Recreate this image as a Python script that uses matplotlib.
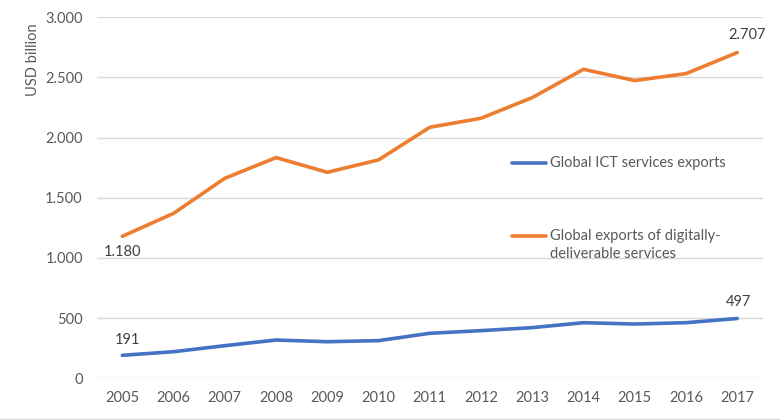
import matplotlib
matplotlib.use("Agg")
import matplotlib.pyplot as plt
from matplotlib.ticker import FuncFormatter
from matplotlib.lines import Line2D

years = ["2005", "2006", "2007", "2008", "2009", "2010", "2011", "2012",
         "2013", "2014", "2015", "2016", "2017"]
ict_exports = [191, 221, 271, 318, 304, 313, 374, 396, 421, 462, 451, 462, 497]
digital_exports = [1180, 1371, 1662, 1834, 1712, 1815, 2086, 2161, 2333, 2568, 2474, 2532, 2707]
series_names = ["Global ICT services exports",
                "Global exports of digitally-\ndeliverable services"]
y_ticks = [0, 500, 1000, 1500, 2000, 2500, 3000]

plt.rcParams['font.family'] = ['Lato', 'DejaVu Sans']
txt = '#595959'
blue = '#4472C4'
orange = '#ED7D31'

fig = plt.figure(figsize=(7.8, 4.2), dpi=100)
ax = fig.add_axes([0.124, 0.0993, 0.854, 0.8595])
x = list(range(len(years)))
ax.plot(x, ict_exports, color=blue, lw=2.6, solid_capstyle='round', zorder=3)
ax.plot(x, digital_exports, color=orange, lw=2.6, solid_capstyle='round', zorder=3)

ax.set_xlim(-0.5, len(years) - 0.5)
ax.set_ylim(0, 3000)
ax.set_yticks(y_ticks)
ax.yaxis.set_major_formatter(FuncFormatter(lambda v, p: f"{int(v):,}".replace(",", ".")))
ax.set_xticks(x)
ax.set_xticklabels(years)
ax.grid(axis='y', color='#d9d9d9', lw=1)
ax.set_axisbelow(True)
for s in ax.spines.values():
    s.set_visible(False)
ax.tick_params(length=0, colors=txt, labelsize=10.5)
ax.tick_params(axis='x', pad=9)
ax.tick_params(axis='y', pad=10)

fig.text(33 / 780, 1 - 60 / 420, "USD billion", rotation=90, ha='center', va='center',
         color=txt, fontsize=10.5)

def fmt(v):
    return f"{v:,}".replace(",", ".")

ax.annotate(fmt(digital_exports[0]), (0, digital_exports[0]), xytext=(0, -11),
            textcoords='offset points', ha='center', va='center', color='#404040', fontsize=10.5)
ax.annotate(fmt(ict_exports[0]), (0, ict_exports[0]), xytext=(4, 11),
            textcoords='offset points', ha='center', va='center', color='#404040', fontsize=10.5)
ax.annotate(fmt(digital_exports[-1]), (12, digital_exports[-1]), xytext=(7, 13),
            textcoords='offset points', ha='center', va='center', color='#404040', fontsize=10.5)
ax.annotate(fmt(ict_exports[-1]), (12, ict_exports[-1]), xytext=(1, 12),
            textcoords='offset points', ha='center', va='center', color='#404040', fontsize=10.5)

# legend
for (yy, col, name) in [(162.7, blue, series_names[0]), (235.7, orange, series_names[1])]:
    fy = 1 - yy / 420
    fig.add_artist(Line2D([512 / 780, 546 / 780], [fy, fy], color=col, lw=2.6,
                          solid_capstyle='round', transform=fig.transFigure))
    fig.text(550 / 780, fy + 7 / 420, name, ha='left', va='top', color=txt,
             fontsize=10.5, linespacing=1.35)

fig.add_artist(Line2D([0, 1], [1 - 418.5 / 420] * 2, color='#d9d9d9', lw=1,
                      transform=fig.transFigure))

fig.savefig("out.png", dpi=100, facecolor='white')
